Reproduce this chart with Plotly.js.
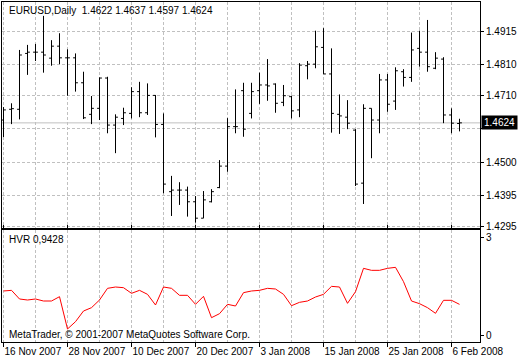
<!DOCTYPE html>
<html><head><meta charset="utf-8">
<script src="https://cdn.plot.ly/plotly-3.0.1.min.js"></script>
<style>html,body{margin:0;padding:0;background:#fff}#chart{width:520px;height:360px}</style>
</head><body><div id="chart"></div>
<script>
const symbolName = 'EURUSD,Daily';
const indicatorName = 'HVR';
const copyrightText = 'MetaTrader, \u00a9 2001-2007 MetaQuotes Software Corp.';

const dates = ['16 Nov 2007','19 Nov 2007','20 Nov 2007','21 Nov 2007','22 Nov 2007','23 Nov 2007','26 Nov 2007','27 Nov 2007','28 Nov 2007','29 Nov 2007','30 Nov 2007',
  '3 Dec 2007','4 Dec 2007','5 Dec 2007','6 Dec 2007','7 Dec 2007','10 Dec 2007','11 Dec 2007','12 Dec 2007','13 Dec 2007','14 Dec 2007','17 Dec 2007','18 Dec 2007','19 Dec 2007','20 Dec 2007','21 Dec 2007','24 Dec 2007','26 Dec 2007','27 Dec 2007','28 Dec 2007','31 Dec 2007',
  '2 Jan 2008','3 Jan 2008','4 Jan 2008','7 Jan 2008','8 Jan 2008','9 Jan 2008','10 Jan 2008','11 Jan 2008','14 Jan 2008','15 Jan 2008','16 Jan 2008','17 Jan 2008','18 Jan 2008','21 Jan 2008','22 Jan 2008','23 Jan 2008','24 Jan 2008','25 Jan 2008','28 Jan 2008','29 Jan 2008','30 Jan 2008','31 Jan 2008',
  '1 Feb 2008','4 Feb 2008','5 Feb 2008','6 Feb 2008','7 Feb 2008'];

const openPrices = [1.4633,1.4667,1.4667,1.4844,1.4848,1.4848,1.4829,1.4867,1.4830,1.4830,1.4751,
  1.4651,1.4670,1.4766,1.4617,1.4638,1.4654,1.4723,1.4656,1.4711,1.4619,1.4406,1.4411,1.4411,1.4374,1.4322,1.4374,1.4419,1.4487,1.4612,1.4726,
  1.4654,1.4726,1.4744,1.4747,1.4689,1.4707,1.4665,1.4805,1.4810,1.4863,1.4779,1.4651,1.4642,1.4601,1.4433,1.4670,1.4633,1.4760,1.4693,1.4786,1.4768,1.4860,
  1.4848,1.4797,1.4826,1.4649,1.4622];
const highPrices = [1.4674,1.4686,1.4855,1.4871,1.4874,1.4963,1.4886,1.4908,1.4857,1.4844,1.4786,
  1.4709,1.4768,1.4770,1.4651,1.4672,1.4737,1.4754,1.4749,1.4712,1.4654,1.4456,1.4436,1.4422,1.4392,1.4408,1.4414,1.4506,1.4639,1.4730,1.4751,
  1.4751,1.4783,1.4826,1.4749,1.4744,1.4710,1.4813,1.4820,1.4916,1.4924,1.4860,1.4714,1.4696,1.4604,1.4683,1.4670,1.4779,1.4779,1.4800,1.4794,1.4910,1.4916,
  1.4950,1.4848,1.4832,1.4670,1.4637];
const lowPrices = [1.4579,1.4620,1.4635,1.4776,1.4820,1.4783,1.4805,1.4810,1.4710,1.4723,1.4636,
  1.4620,1.4633,1.4591,1.4528,1.4617,1.4638,1.4642,1.4649,1.4578,1.4401,1.4329,1.4364,1.4327,1.4308,1.4322,1.4372,1.4417,1.4469,1.4591,1.4580,
  1.4638,1.4684,1.4694,1.4656,1.4677,1.4638,1.4642,1.4762,1.4797,1.4779,1.4593,1.4589,1.4604,1.4424,1.4367,1.4512,1.4591,1.4659,1.4665,1.4739,1.4754,1.4802,
  1.4786,1.4794,1.4623,1.4591,1.4597];
const closePrices = [1.4665,1.4669,1.4839,1.4848,1.4848,1.4839,1.4867,1.4830,1.4830,1.4751,1.4640,
  1.4670,1.4766,1.4617,1.4642,1.4656,1.4723,1.4656,1.4711,1.4619,1.4430,1.4411,1.4411,1.4374,1.4322,1.4380,1.4406,1.4487,1.4612,1.4612,1.4604,
  1.4723,1.4744,1.4741,1.4686,1.4710,1.4662,1.4807,1.4810,1.4865,1.4779,1.4654,1.4646,1.4623,1.4430,1.4670,1.4633,1.4760,1.4683,1.4789,1.4768,1.4855,1.4848,
  1.4802,1.4829,1.4649,1.4623,1.4624];

const hvrValues = [1.354,1.374,1.108,1.077,1.108,1.046,1.046,1.179,0.185,0.410,0.738,
  0.841,1.077,1.436,1.477,1.456,1.282,1.374,1.251,0.923,1.477,1.436,1.221,1.221,0.944,1.190,0.533,0.656,0.944,0.892,1.303,
  1.354,1.374,1.436,1.415,1.251,0.902,1.005,1.046,1.169,1.251,1.497,1.477,0.974,1.333,2.051,1.990,1.990,2.051,2.082,1.641,1.046,0.964,
  0.841,0.667,1.067,1.067,0.9428];

const dateTickLabels = ['16 Nov 2007','28 Nov 2007','10 Dec 2007','20 Dec 2007','3 Jan 2008','15 Jan 2008','25 Jan 2008','6 Feb 2008'];
const priceTickLabels = ['1.4915','1.4810','1.4710','1.4605','1.4500','1.4395','1.4295'];
const hvrTickLabels = ['3','0'];

const idx = dates.map((d, i) => i);
const n = dates.length - 1;
const lastBar = [openPrices[n], highPrices[n], lowPrices[n], closePrices[n]].map(v => v.toFixed(4));
const lastClose = closePrices[n];
// the current-price box covers the price label that sits right under it
const shownPriceText = priceTickLabels.map(l => Math.abs(Number(l) - lastClose) < 0.0025 ? '' : l);

const baseFont = {family: '"Liberation Sans", Arial, sans-serif', size: 10, color: '#000'};
const gridColor = '#c0c0c0';
const dash = '3px,2px';

const traces = [
  {type: 'ohlc', x: idx, open: openPrices, high: highPrices, low: lowPrices, close: closePrices,
   xaxis: 'x', yaxis: 'y', tickwidth: 0.3,
   increasing: {line: {color: '#000', width: 1}}, decreasing: {line: {color: '#000', width: 1}},
   hoverinfo: 'skip', showlegend: false},
  {type: 'scatter', mode: 'lines', x: idx, y: hvrValues, xaxis: 'x', yaxis: 'y2',
   line: {color: '#ff0000', width: 1}, hoverinfo: 'skip', showlegend: false}
];

const layout = {
  width: 520, height: 360,
  margin: {l: 2, r: 40, t: 2, b: 18},
  paper_bgcolor: '#fff', plot_bgcolor: '#fff',
  font: baseFont, showlegend: false,
  xaxis: {
    anchor: 'y2', range: [-0.1875, 59.5625], rangeslider: {visible: false},
    tickmode: 'array', tickvals: dateTickLabels.map(l => dates.indexOf(l)), ticktext: dateTickLabels,
    ticks: 'outside', ticklen: 4, tickcolor: '#000', ticklabelposition: 'outside right', tickangle: 0,
    ticklabelstandoff: 0,
    showgrid: true, gridcolor: gridColor, griddash: dash, gridwidth: 1,
    minor: {tickmode: 'linear', tick0: 0, dtick: 4, showgrid: true, gridcolor: gridColor, griddash: dash, gridwidth: 1, ticks: ''},
    showline: true, mirror: 'all', linecolor: '#000', linewidth: 1, zeroline: false
  },
  yaxis: {
    domain: [0.33529, 1], anchor: 'x', side: 'right', range: [1.42909, 1.50069],
    tickmode: 'array', tickvals: priceTickLabels.map(Number), ticktext: shownPriceText,
    ticks: 'outside', ticklen: 3, tickcolor: '#000',
    showgrid: true, gridcolor: gridColor, griddash: dash, gridwidth: 1,
    showline: true, mirror: true, linecolor: '#000', linewidth: 1, zeroline: false
  },
  yaxis2: {
    domain: [0, 0.32941], anchor: 'x', side: 'right', range: [-0.2154, 3.2308],
    tickmode: 'array', tickvals: hvrTickLabels.map(Number), ticktext: hvrTickLabels,
    ticks: 'outside', ticklen: 3, tickcolor: '#000', showgrid: false,
    showline: true, mirror: true, linecolor: '#000', linewidth: 1, zeroline: false
  },
  shapes: [
    {type: 'line', xref: 'x domain', x0: 0, x1: 1, yref: 'y', y0: lastClose, y1: lastClose,
     line: {color: '#c0c0c0', width: 1}, layer: 'below'}
  ],
  annotations: [
    {xref: 'paper', yref: 'paper', x: 0.0105, y: 0.975, xanchor: 'left', yanchor: 'middle', showarrow: false,
     text: symbolName + '\u00a0\u00a0' + lastBar.join(' '), font: baseFont},
    {xref: 'paper', yref: 'paper', x: 0.0105, y: 0.30, xanchor: 'left', yanchor: 'middle', showarrow: false,
     text: indicatorName + ' ' + hvrValues[n].toFixed(4).replace('.', ','), font: baseFont},
    {xref: 'paper', yref: 'paper', x: 0.0105, y: 0.022, xanchor: 'left', yanchor: 'middle', showarrow: false,
     text: copyrightText, font: baseFont},
    {xref: 'paper', yref: 'y', x: 1, y: lastClose, xanchor: 'left', yanchor: 'middle', xshift: 1, showarrow: false,
     text: lastClose.toFixed(4), font: Object.assign({}, baseFont, {color: '#fff'}),
     bgcolor: '#000', borderpad: 1, width: 33, height: 11}
  ]
};

Plotly.newPlot('chart', traces, layout, {staticPlot: true, displayModeBar: false});
</script>
</body></html>
